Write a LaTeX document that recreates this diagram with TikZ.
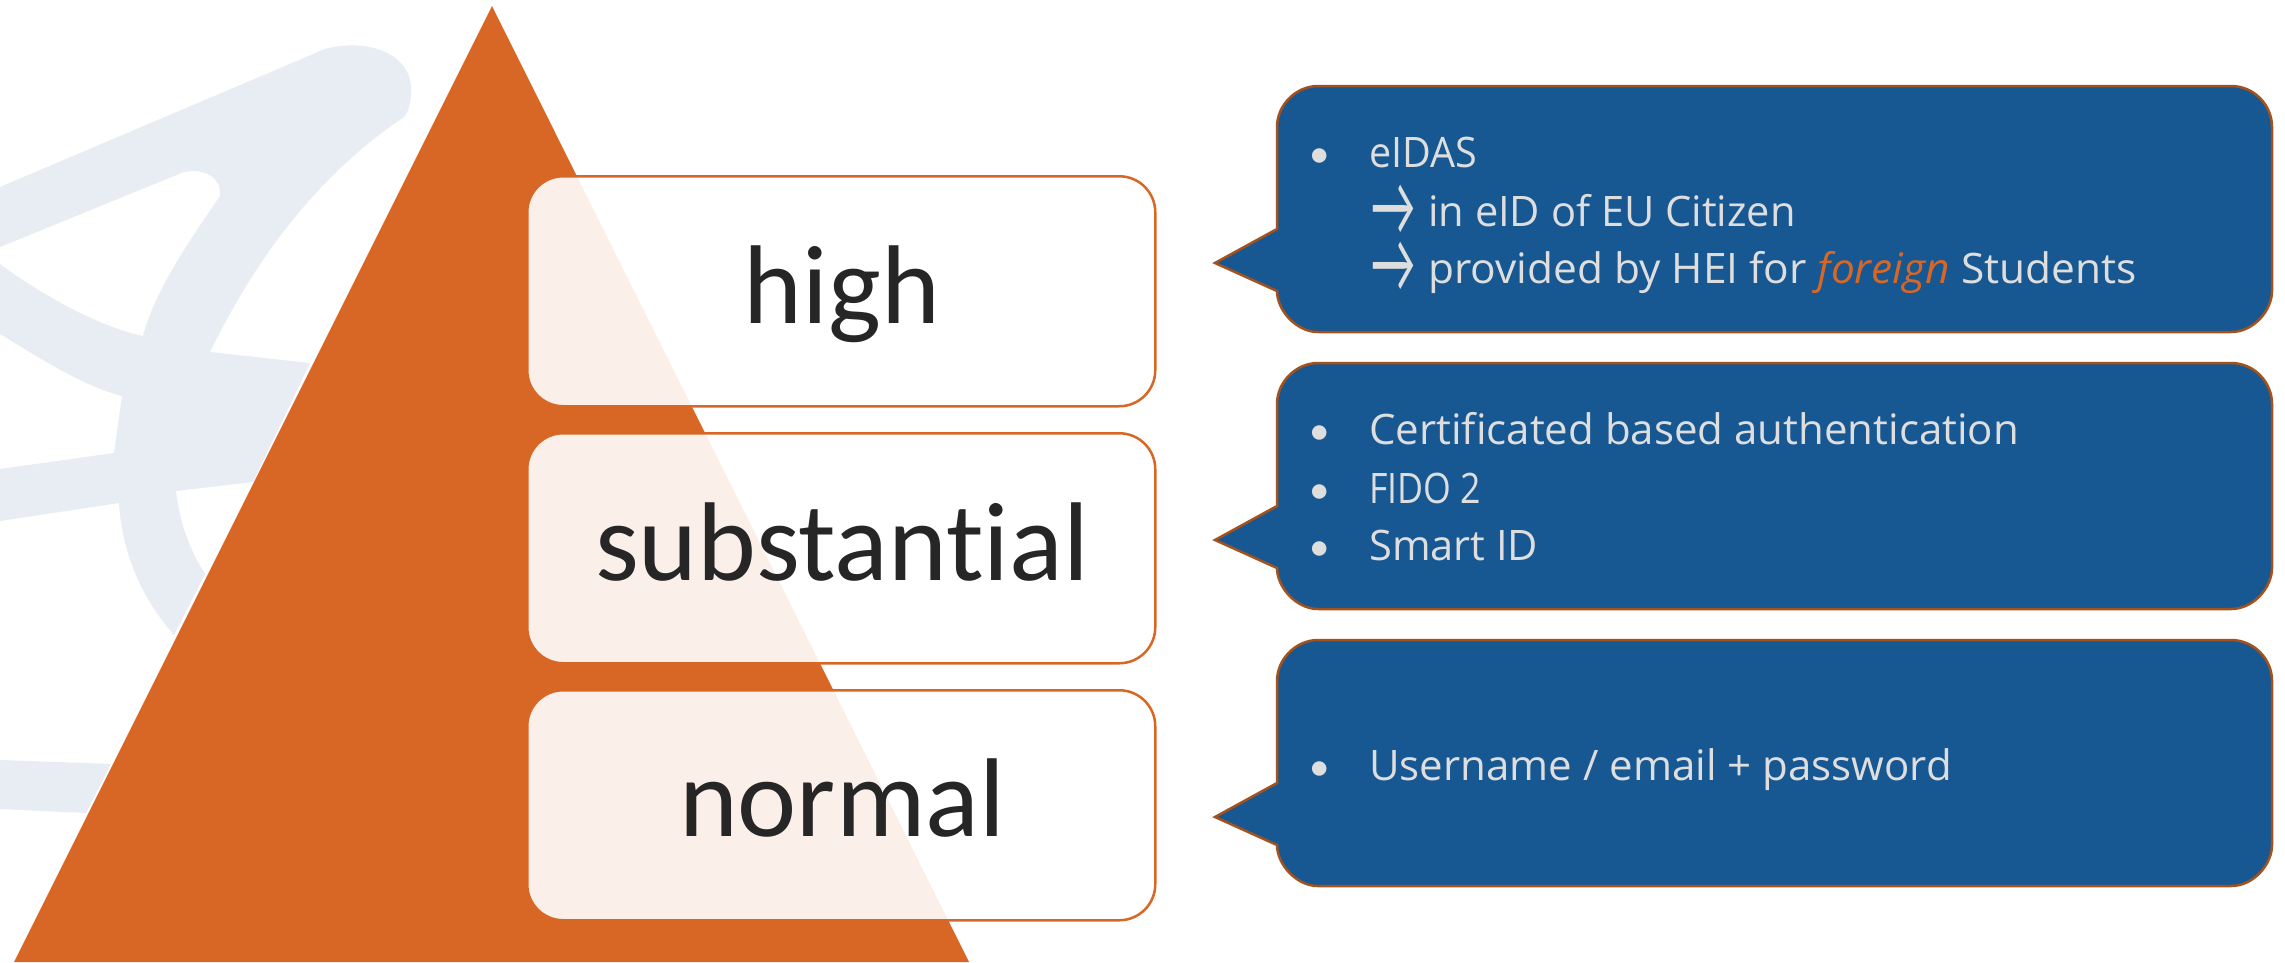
\documentclass[tikz,border=0pt]{standalone}
\usepackage{fontspec}
\setmainfont{Carlito}[Ligatures=NoCommon]
\newfontfamily\bodyfont{Open Sans}[Ligatures=NoCommon]
\definecolor{orangeA}{HTML}{D86726}
\definecolor{blueA}{HTML}{175792}
\definecolor{edgeA}{HTML}{A3521E}
\definecolor{planeA}{HTML}{E7EDF3}
\definecolor{inkA}{HTML}{262626}
\definecolor{lightA}{HTML}{DEDEDE}
\tikzset{
  levelbox/.style={draw=orangeA,line width=2.5pt,fill=white,fill opacity=.9,rounded corners=36pt,minimum width=628pt,minimum height=230pt,inner sep=0pt,anchor=north west},
  leveltext/.style={font=\fontsize{112}{112}\selectfont,text=inkA,anchor=base,inner sep=0pt},
  calloutshape/.style={draw=edgeA,line width=2.5pt,fill=blueA},
  calltext/.style={font=\bodyfont\fontsize{42}{42}\selectfont,text=lightA,anchor=base west,inner sep=0pt},
  callmark/.style={font=\fontsize{44}{44}\selectfont,text=lightA,anchor=base west,inner sep=0pt},
  callbullet/.style={font=\fontsize{41}{41}\selectfont,text=lightA,anchor=base west,inner sep=0pt}
}
\newcommand{\calloutat}[1]{%
  \draw[calloutshape] (1277,#1+143) -- (1215,#1+177) -- (1277,#1+205)
    .. controls (1277,#1+224) and (1296,#1+246) .. (1318,#1+246) -- (2231,#1+246)
    .. controls (2254,#1+246) and (2272,#1+224) .. (2272,#1+205) -- (2272,#1+41)
    .. controls (2272,#1+19) and (2254,#1) .. (2231,#1) -- (1318,#1)
    .. controls (1296,#1) and (1277,#1+19) .. (1277,#1+41) -- cycle;}
\newcommand{\cs}[2]{\scalebox{#1}[1]{#2}}
\newcommand{\arrowmark}{\smash{\raisebox{-9pt}{\scalebox{1.1}[2]{→}}}}
\begin{document}
\begin{tikzpicture}[x=1pt,y=-1pt]
\useasboundingbox (0,0) rectangle (2285,962);
\fill[white] (0,0) rectangle (2285,962);
% background plane
\fill[planeA] (0,187) -- (325,49) .. controls (365,38) and (413,52) .. (411,92) .. controls (411,104) and (408,112) .. (404,117)
  .. controls (310,180) and (250,270) .. (210,352) -- (310,363) -- (253,482) -- (176,491)
  .. controls (180,525) and (190,550) .. (205,574) -- (174,635)
  .. controls (135,590) and (122,545) .. (119,503) -- (0,521) -- (0,469) -- (114,453) -- (122,396)
  .. controls (80,385) and (35,355) .. (0,334) -- (0,264)
  .. controls (25,283) and (90,325) .. (143,336)
  .. controls (155,290) and (190,240) .. (220,196)
  .. controls (222,178) and (205,168) .. (184,172) -- (0,247) -- cycle;
\fill[planeA] (0,760) -- (111,764) -- (86,813) -- (0,809) -- cycle;
% pyramid
\fill[orangeA] (492,6) -- (969,962) -- (14,962) -- cycle;
% levels
\node[levelbox] (boxhigh) at (526,175) {};
\node[levelbox] (boxsub) at (526,432) {};
\node[levelbox] (boxnorm) at (526,689) {};
\node[leveltext] (lhigh) at (842,323) {high};
\node[leveltext] (lsub) at (842,580) {substantial};
\node[leveltext] (lnorm) at (842,836) {normal};
% callouts
\calloutat{86}
\calloutat{363}
\calloutat{640}
\node[callbullet] (b1) at (1309,167) {•};
\node[calltext] (t1) at (1369,167) {\cs{.94}{eIDAS}};
\node[callmark] (a1) at (1371,226) {\arrowmark};
\node[calltext] (t2) at (1428,226) {\cs{.99}{in eID of EU Citizen}};
\node[callmark] (a2) at (1371,283) {\arrowmark};
\node[calltext] (t3) at (1428,283) {\cs{1.01}{provided by HEI for \textcolor{orangeA}{\textit{foreign}} Students}};
\node[callbullet] (b2) at (1309,444) {•};
\node[calltext] (t4) at (1369,444) {\cs{1}{Certificated based authentication}};
\node[callbullet] (b3) at (1309,503) {•};
\node[calltext] (t5) at (1369,503) {\cs{.85}{FIDO 2}};
\node[callbullet] (b4) at (1309,560) {•};
\node[calltext] (t6) at (1369,560) {\cs{.99}{Smart ID}};
\node[callbullet] (b5) at (1309,780) {•};
\node[calltext] (t7) at (1369,780) {\cs{1}{Username / email + password}};
\end{tikzpicture}
\end{document}
